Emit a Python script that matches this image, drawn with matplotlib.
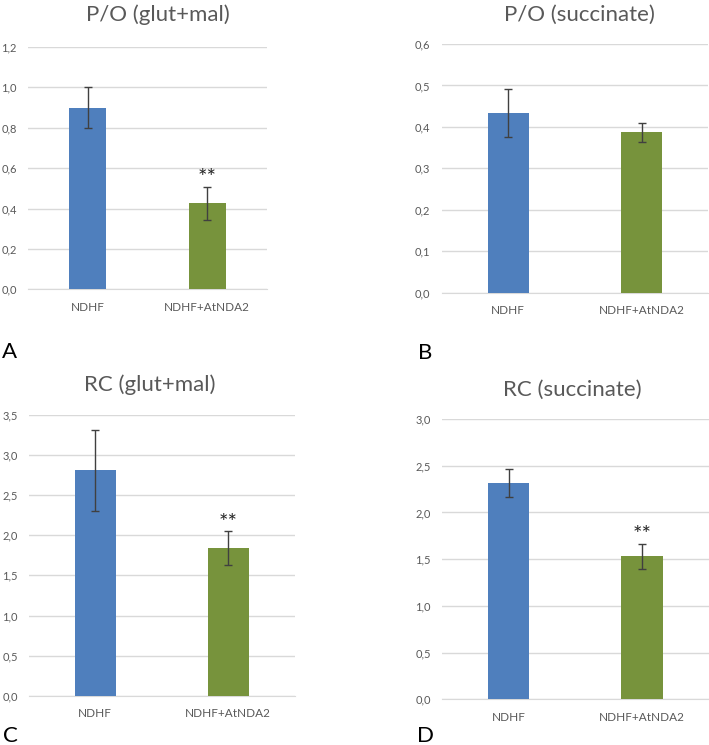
import numpy as np
import matplotlib.pyplot as plt

plt.rcParams['font.family'] = ['Lato', 'DejaVu Sans']

groups = ['NDHF', 'NDHF+AtNDA2']

po_glut = [0.90, 0.425]
po_glut_err = [0.10, 0.082]
po_succ = [0.433, 0.387]
po_succ_err = [0.058, 0.023]
rc_glut = [2.81, 1.84]
rc_glut_err = [0.505, 0.21]
rc_succ = [2.32, 1.53]
rc_succ_err = [0.15, 0.135]

titles = ['P/O (glut+mal)', 'P/O (succinate)', 'RC (glut+mal)', 'RC (succinate)']
letters = ['A', 'B', 'C', 'D']
yticks = [np.arange(0, 1.21, 0.2), np.arange(0, 0.61, 0.1),
          np.arange(0, 3.51, 0.5), np.arange(0, 3.01, 0.5)]
stars = [[False, True], [False, False], [False, True], [False, True]]
values = [po_glut, po_succ, rc_glut, rc_succ]
errors = [po_glut_err, po_succ_err, rc_glut_err, rc_succ_err]

W, H = 709, 745
# axes boxes in pixels: left, top, right, bottom
boxes = [(28, 47, 267, 289.3), (441.5, 44, 708.2, 292.7),
         (28.8, 415, 294.8, 695.7), (442, 419, 708.5, 699.3)]
title_pos = [(158, 15), (579, 15), (150, 385), (572, 390)]
letter_pos = [(10, 358), (425, 359), (10, 742), (426, 742)]

colors = ['#4F7FBD', '#77933C']
grey = '#595959'

fig = plt.figure(figsize=(W / 100, H / 100), dpi=100)

for k in range(4):
    l, t, r, b = boxes[k]
    ax = fig.add_axes([l / W, 1 - b / H, (r - l) / W, (b - t) / H])
    x = np.arange(len(groups))
    ax.bar(x, values[k], width=0.31, color=colors, zorder=3)
    ax.errorbar(x, values[k], yerr=errors[k], fmt='none', ecolor='#404040',
                elinewidth=1, capsize=3, capthick=1, zorder=4)
    for i in range(2):
        if stars[k][i]:
            ax.annotate('**', (x[i], values[k][i] + errors[k][i]),
                        xytext=(0, -1), textcoords='offset points',
                        ha='center', va='bottom', fontsize=16, color='#262626')
    tk = yticks[k]
    ax.set_ylim(0, tk[-1])
    ax.set_xlim(-0.5, 1.5)
    ax.set_yticks(tk)
    ax.set_yticklabels([f'{v:.1f}'.replace('.', ',') for v in tk],
                       fontsize=8, color=grey)
    ax.set_xticks(x)
    ax.set_xticklabels(groups, fontsize=8.5, color=grey)
    ax.tick_params(length=0)
    ax.tick_params(axis='y', pad=8)
    ax.tick_params(axis='x', pad=9)
    ax.grid(axis='y', color='#D9D9D9', linewidth=1, zorder=0)
    for s in ['top', 'right', 'left']:
        ax.spines[s].set_visible(False)
    ax.spines['bottom'].set_color('#D9D9D9')
    tx, ty = title_pos[k]
    fig.text(tx / W, 1 - ty / H, titles[k], ha='center', va='center',
             fontsize=16, color=grey)
    lx, ly = letter_pos[k]
    fig.text(lx / W, 1 - ly / H, letters[k], ha='center', va='baseline',
             fontsize=16, color='black')

fig.savefig('out.png', dpi=100)
